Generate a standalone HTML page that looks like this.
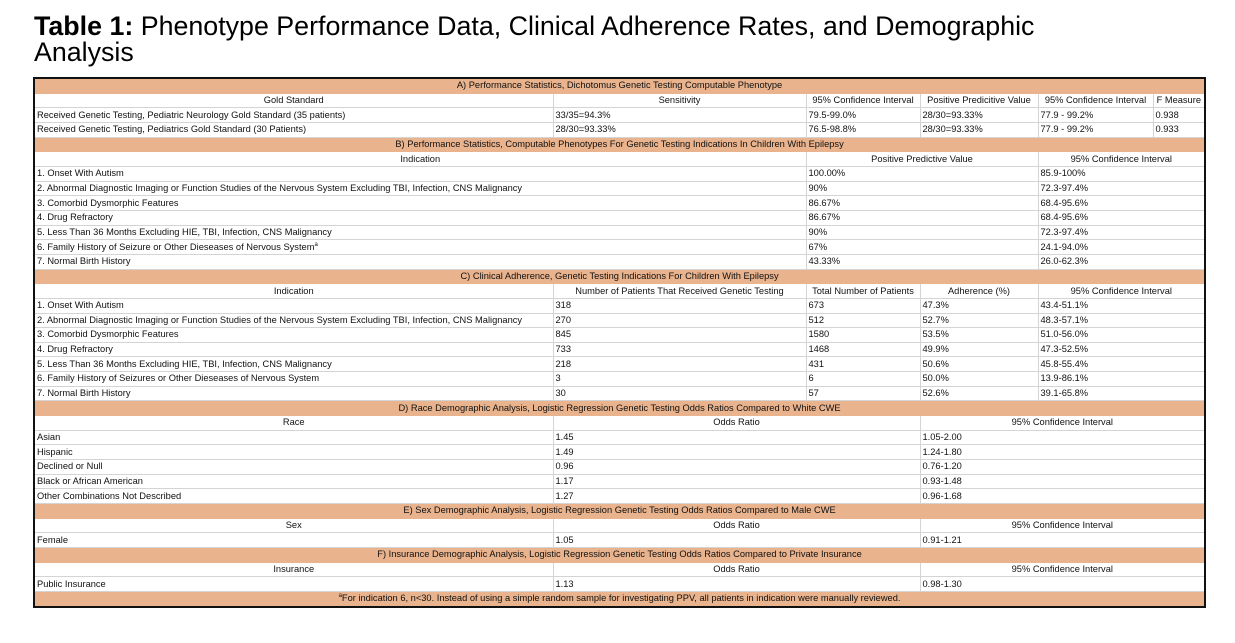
<!DOCTYPE html>
<html><head><meta charset="utf-8"><style>
body{margin:0;background:#fff;width:1235px;height:643px;overflow:hidden;font-family:"Liberation Sans",sans-serif;}
.title{position:absolute;left:34px;top:13px;font-size:26.8px;line-height:26px;color:#000;}
table{position:absolute;left:33px;top:77px;border-collapse:collapse;table-layout:fixed;width:1171px;border:2px solid #111;}
td{border:1px solid #d4d4d4;height:13.67px;padding:0 2px;font-size:9.3px;line-height:13px;white-space:nowrap;overflow:hidden;color:#111;}
tr.h td{background:#e9b38d;text-align:center;border-color:#e9b38d;}
tr.c td{text-align:center;}
sup{font-size:6px;line-height:0}
</style></head><body>
<div class="title"><b>Table 1:</b> Phenotype Performance Data, Clinical Adherence Rates, and Demographic<br>Analysis</div>
<table>
<colgroup><col style="width:519px"><col style="width:253px"><col style="width:114px"><col style="width:118px"><col style="width:115px"><col style="width:52px"></colgroup>
<tr class="h"><td colspan="6">A) Performance Statistics, Dichotomus Genetic Testing Computable Phenotype</td></tr>
<tr class="c"><td>Gold Standard</td><td>Sensitivity</td><td>95% Confidence Interval</td><td>Positive Predicitive Value</td><td>95% Confidence Interval</td><td>F Measure</td></tr>
<tr><td>Received Genetic Testing, Pediatric Neurology Gold Standard (35 patients)</td><td>33/35=94.3%</td><td>79.5-99.0%</td><td>28/30=93.33%</td><td>77.9 - 99.2%</td><td>0.938</td></tr>
<tr><td>Received Genetic Testing, Pediatrics Gold Standard (30 Patients)</td><td>28/30=93.33%</td><td>76.5-98.8%</td><td>28/30=93.33%</td><td>77.9 - 99.2%</td><td>0.933</td></tr>
<tr class="h"><td colspan="6">B) Performance Statistics, Computable Phenotypes For Genetic Testing Indications In Children With Epilepsy</td></tr>
<tr class="c"><td colspan="2">Indication</td><td colspan="2">Positive Predictive Value</td><td colspan="2">95% Confidence Interval</td></tr>
<tr><td colspan="2">1. Onset With Autism</td><td colspan="2">100.00%</td><td colspan="2">85.9-100%</td></tr>
<tr><td colspan="2">2. Abnormal Diagnostic Imaging or Function Studies of the Nervous System Excluding TBI, Infection, CNS Malignancy</td><td colspan="2">90%</td><td colspan="2">72.3-97.4%</td></tr>
<tr><td colspan="2">3. Comorbid Dysmorphic Features</td><td colspan="2">86.67%</td><td colspan="2">68.4-95.6%</td></tr>
<tr><td colspan="2">4. Drug Refractory</td><td colspan="2">86.67%</td><td colspan="2">68.4-95.6%</td></tr>
<tr><td colspan="2">5. Less Than 36 Months Excluding HIE, TBI, Infection, CNS Malignancy</td><td colspan="2">90%</td><td colspan="2">72.3-97.4%</td></tr>
<tr><td colspan="2">6. Family History of Seizure or Other Dieseases of Nervous System<sup>a</sup></td><td colspan="2">67%</td><td colspan="2">24.1-94.0%</td></tr>
<tr><td colspan="2">7. Normal Birth History</td><td colspan="2">43.33%</td><td colspan="2">26.0-62.3%</td></tr>
<tr class="h"><td colspan="6">C) Clinical Adherence, Genetic Testing Indications For Children With Epilepsy</td></tr>
<tr class="c"><td>Indication</td><td>Number of Patients That Received Genetic Testing</td><td>Total Number of Patients</td><td>Adherence (%)</td><td colspan="2">95% Confidence Interval</td></tr>
<tr><td>1. Onset With Autism</td><td>318</td><td>673</td><td>47.3%</td><td colspan="2">43.4-51.1%</td></tr>
<tr><td>2. Abnormal Diagnostic Imaging or Function Studies of the Nervous System Excluding TBI, Infection, CNS Malignancy</td><td>270</td><td>512</td><td>52.7%</td><td colspan="2">48.3-57.1%</td></tr>
<tr><td>3. Comorbid Dysmorphic Features</td><td>845</td><td>1580</td><td>53.5%</td><td colspan="2">51.0-56.0%</td></tr>
<tr><td>4. Drug Refractory</td><td>733</td><td>1468</td><td>49.9%</td><td colspan="2">47.3-52.5%</td></tr>
<tr><td>5. Less Than 36 Months Excluding HIE, TBI, Infection, CNS Malignancy</td><td>218</td><td>431</td><td>50.6%</td><td colspan="2">45.8-55.4%</td></tr>
<tr><td>6. Family History of Seizures or Other Dieseases of Nervous System</td><td>3</td><td>6</td><td>50.0%</td><td colspan="2">13.9-86.1%</td></tr>
<tr><td>7. Normal Birth History</td><td>30</td><td>57</td><td>52.6%</td><td colspan="2">39.1-65.8%</td></tr>
<tr class="h"><td colspan="6">D) Race Demographic Analysis, Logistic Regression Genetic Testing Odds Ratios Compared to White CWE</td></tr>
<tr class="c"><td>Race</td><td colspan="2">Odds Ratio</td><td colspan="3">95% Confidence Interval</td></tr>
<tr><td>Asian</td><td colspan="2">1.45</td><td colspan="3">1.05-2.00</td></tr>
<tr><td>Hispanic</td><td colspan="2">1.49</td><td colspan="3">1.24-1.80</td></tr>
<tr><td>Declined or Null</td><td colspan="2">0.96</td><td colspan="3">0.76-1.20</td></tr>
<tr><td>Black or African American</td><td colspan="2">1.17</td><td colspan="3">0.93-1.48</td></tr>
<tr><td>Other Combinations Not Described</td><td colspan="2">1.27</td><td colspan="3">0.96-1.68</td></tr>
<tr class="h"><td colspan="6">E) Sex Demographic Analysis, Logistic Regression Genetic Testing Odds Ratios Compared to Male CWE</td></tr>
<tr class="c"><td>Sex</td><td colspan="2">Odds Ratio</td><td colspan="3">95% Confidence Interval</td></tr>
<tr><td>Female</td><td colspan="2">1.05</td><td colspan="3">0.91-1.21</td></tr>
<tr class="h"><td colspan="6">F) Insurance Demographic Analysis, Logistic Regression Genetic Testing Odds Ratios Compared to Private Insurance</td></tr>
<tr class="c"><td>Insurance</td><td colspan="2">Odds Ratio</td><td colspan="3">95% Confidence Interval</td></tr>
<tr><td>Public Insurance</td><td colspan="2">1.13</td><td colspan="3">0.98-1.30</td></tr>
<tr class="h"><td colspan="6"><sup>a</sup>For indication 6, n&lt;30. Instead of using a simple random sample for investigating PPV, all patients in indication were manually reviewed.</td></tr>
</table>
</body></html>
